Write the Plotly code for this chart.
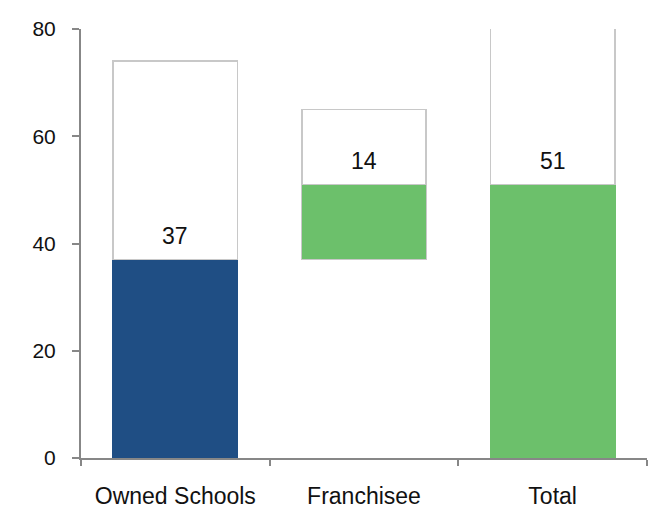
import plotly.graph_objects as go

# Bridge from owned schools through franchisee to total
categories = ["Owned Schools", "Franchisee", "Total"]
offset_values = [0, 37, 0]          # hidden base that lifts the franchisee step
step_values = [37, 14, 51]          # coloured segments
step_colors = ["#1F4E84", "#6CC06B", "#6CC06B"]
step_line_colors = ["#1F4E84", "#C8C8C8", "#6CC06B"]
label_values = step_values          # outlined box echoes each step

FONT = "Liberation Sans, Arial, sans-serif"
AXIS_GREY = "#878787"

fig = go.Figure()

fig.add_trace(go.Bar(
    x=categories, y=offset_values,
    marker=dict(color="rgba(0,0,0,0)", line=dict(width=0)),
    hoverinfo="skip", showlegend=False,
))
fig.add_trace(go.Bar(
    x=categories, y=step_values,
    marker=dict(color=step_colors, line=dict(color=step_line_colors, width=1.5)),
    showlegend=False,
))
fig.add_trace(go.Bar(
    x=categories, y=label_values,
    marker=dict(color="white", line=dict(color="#C8C8C8", width=1.8)),
    showlegend=False,
))

# value labels sit just inside the base of each outlined box
for cat, off, val in zip(categories, offset_values, step_values):
    fig.add_annotation(
        x=cat, y=off + val, text=str(val), showarrow=False,
        yanchor="bottom", yshift=9,
        font=dict(family=FONT, size=23, color="#111111"),
    )

fig.update_layout(
    width=657, height=513,
    margin=dict(l=81, r=10, t=29, b=55),
    barmode="stack", bargap=0.34,
    plot_bgcolor="white", paper_bgcolor="white",
    font=dict(family=FONT, size=21, color="#111111"),
)
fig.update_xaxes(
    showline=True, linecolor=AXIS_GREY, linewidth=2,
    ticks="outside", tickson="boundaries", ticklen=6, tickwidth=2, tickcolor=AXIS_GREY,
    showgrid=False, ticklabelstandoff=16, automargin=False,
    tickfont=dict(family=FONT, size=23, color="#111111"),
)
fig.update_yaxes(
    range=[0, 80], dtick=20,
    showline=True, linecolor=AXIS_GREY, linewidth=2,
    ticks="outside", ticklen=7, tickwidth=2, tickcolor=AXIS_GREY,
    showgrid=False, zeroline=False, ticklabelstandoff=12, automargin=False,
    tickfont=dict(family=FONT, size=21, color="#111111"),
)

fig.write_html("out.html")
